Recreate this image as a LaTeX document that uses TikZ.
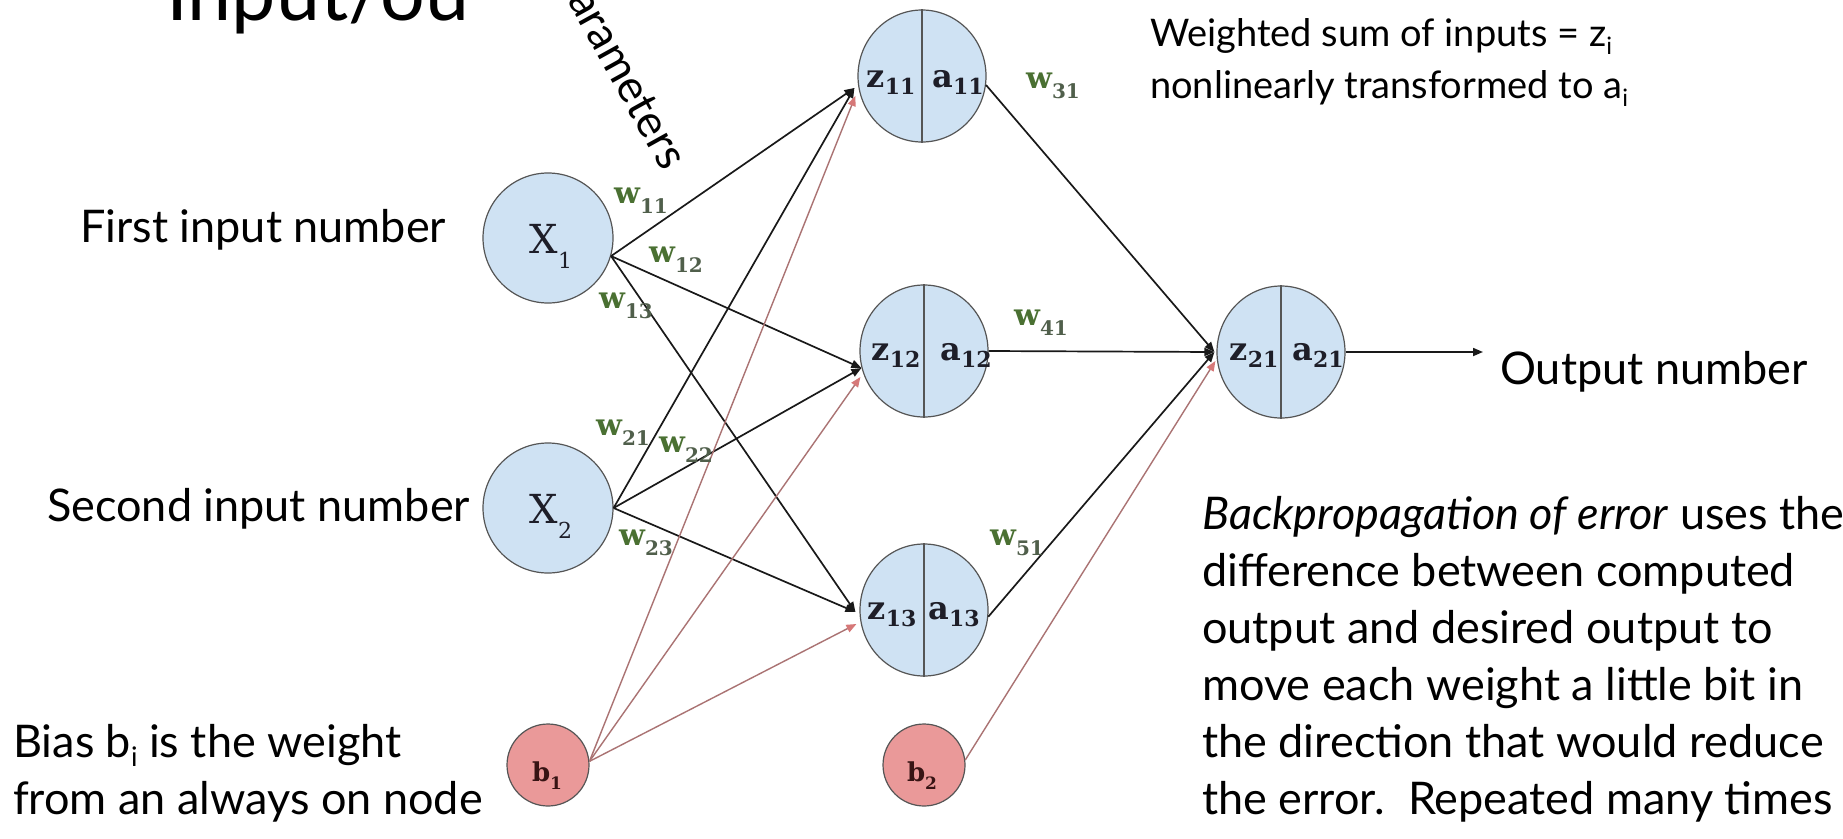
\documentclass[tikz,border=0pt]{standalone}
\usepackage{fontspec}
\setmainfont{Lato}
\newfontfamily\slabfont{DejaVu Serif}
\usetikzlibrary{arrows.meta,calc,shapes.geometric}
\definecolor{nodeblue}{RGB}{207,226,243}
\definecolor{nodered}{RGB}{234,153,153}
\definecolor{rimgray}{RGB}{85,85,85}
\definecolor{wgreen}{RGB}{74,112,50}
\definecolor{wdigit}{RGB}{80,95,75}
\definecolor{biasline}{RGB}{170,115,115}
\definecolor{biastip}{RGB}{214,120,120}
\definecolor{lineblack}{RGB}{25,25,25}
\definecolor{labdark}{RGB}{30,30,40}
\definecolor{bdark}{RGB}{55,20,20}
\newcommand{\tsub}[1]{\raisebox{-9pt}{\fontsize{27}{27}\selectfont #1}}
\newcommand{\ssub}[1]{\raisebox{-8pt}{\fontsize{24}{24}\selectfont #1}}
\newcommand{\lowsub}[3]{\raisebox{-#1pt}{\fontsize{#2}{#2}\selectfont #3}}
\newcommand{\wlab}[1]{{\color{wgreen}w}\raisebox{-10pt}{\fontsize{20}{20}\selectfont\color{wdigit}#1}}
\tikzset{
  txt/.style={font=\fontsize{45}{54}\selectfont, inner sep=0pt, anchor=base west, text=black},
  smalltxt/.style={font=\fontsize{38}{46}\selectfont, inner sep=0pt, anchor=base west, text=black},
  hid/.style={ellipse, draw=rimgray, fill=nodeblue, line width=1.2pt, minimum width=128pt, minimum height=132pt, inner sep=0pt},
  inp/.style={circle, draw=rimgray, fill=nodeblue, line width=1.2pt, minimum size=130pt, inner sep=0pt},
  bias/.style={circle, draw=rimgray, fill=nodered, line width=1.2pt, minimum size=82pt, inner sep=0pt},
  wl/.style={font=\slabfont\bfseries\fontsize{30}{30}\selectfont, inner sep=0pt, anchor=base west},
  hl/.style={font=\slabfont\bfseries\fontsize{32}{32}\selectfont, text=labdark, inner sep=0pt, anchor=base},
  xl/.style={font=\slabfont\fontsize{40}{40}\selectfont, text=labdark, inner sep=0pt, anchor=base},
  bl/.style={font=\slabfont\bfseries\fontsize{26}{26}\selectfont, text=bdark, inner sep=0pt, anchor=base},
  divider/.style={draw=rimgray, line width=1.2pt},
  wline/.style={draw=lineblack, line width=1.7pt, -{Triangle[length=10pt,width=8pt]}},
  bline/.style={draw=biasline, line width=1.4pt, -{Triangle[length=10pt,width=8pt,color=biastip]}}
}
\begin{document}
\begin{tikzpicture}[x=1pt,y=-1pt]
\useasboundingbox (0,0) rectangle (1843,838);
\fill[white] (0,0) rectangle (1843,838);
% title, partly hidden
\begin{scope}
\clip (0,0) rectangle (468,60);
\node[txt, font=\fontsize{79}{79}\selectfont] (title) at (166,20) {Input/out};
\end{scope}
\node[txt, rotate=-61] (param) at (567,0) {arameters};

% nodes
\node[inp] (X1) at (548,238) {};
\node[inp] (X2) at (548,508) {};
\node[bias] (b1) at (548,765) {};
\node[hid] (z11) at (922,76) {};
\node[hid] (z12) at (924,351) {};
\node[hid] (z13) at (924,610) {};
\node[bias] (b2) at (924,765) {};
\node[hid] (z21) at (1281,352) {};
\foreach \n in {z11,z12,z13,z21} \draw[divider] (\n.north) -- (\n.south);

% node labels
\node[xl] (X1t) at (551,253) {X\lowsub{15}{22}{1}};
\node[xl] (X2t) at (551,523) {X\lowsub{15}{22}{2}};
\node[hl] (z11z) at (891,87) {z\lowsub{7}{22}{11}};
\node[hl] (z11a) at (958,87) {a\lowsub{7}{22}{11}};
\node[hl] (z12z) at (896,360) {z\lowsub{7}{22}{12}};
\node[hl] (z12a) at (966,360) {a\lowsub{7}{22}{12}};
\node[hl] (z13z) at (892,619) {z\lowsub{7}{22}{13}};
\node[hl] (z13a) at (954,619) {a\lowsub{7}{22}{13}};
\node[hl] (z21z) at (1254,360) {z\lowsub{7}{22}{21}};
\node[hl] (z21a) at (1318,360) {a\lowsub{7}{22}{21}};
\node[bl] (b1t) at (547,781) {b\lowsub{8}{17}{1}};
\node[bl] (b2t) at (922,781) {b\lowsub{8}{17}{2}};

% input points
\coordinate (z11in) at ($(z11.west)+(-3,12)$);
\coordinate (z11inb) at ($(z11.west)+(-2,20)$);
\coordinate (z12in) at ($(z12.west)+(2,17)$);
\coordinate (z12inb) at ($(z12.west)+(1,26)$);
\coordinate (z13in) at ($(z13.west)+(-4,2)$);
\coordinate (z13inb) at ($(z13.west)+(-3,14)$);
\coordinate (z21in) at ($(z21.west)+(-2,0)$);
\coordinate (z21inb) at ($(z21.west)+(-1,9)$);
\coordinate (outend) at (1483,352);

% connectors
\foreach \t in {z11in,z12in,z13in} {
  \draw[wline] (X1.-16) -- (\t);
  \draw[wline] (X2.east) -- (\t);
}
\foreach \t in {z11inb,z12inb,z13inb} \draw[bline] (b1.5) -- (\t);
\draw[wline] (z11.-8) -- (z21in);
\draw[wline] (z12.east) -- (z21in);
\draw[wline] (z13.-6) -- (z21in);
\draw[bline] (b2.7) -- (z21inb);
\draw[wline] (z21.east) -- (outend);

% weight labels
\node[wl] (w11) at (614,203) {\wlab{11}};
\node[wl] (w12) at (649,262) {\wlab{12}};
\node[wl] (w13) at (599,308) {\wlab{13}};
\node[wl] (w21) at (596,435) {\wlab{21}};
\node[wl] (w22) at (659,452) {\wlab{22}};
\node[wl] (w23) at (619,545) {\wlab{23}};
\node[wl] (w31) at (1026,88) {\wlab{31}};
\node[wl] (w41) at (1014,325) {\wlab{41}};
\node[wl] (w51) at (990,545) {\wlab{51}};

% texts
\node[txt] (first) at (80,242) {First input number};
\node[txt] (second) at (47,521) {Second input number};
\node[txt] (outtxt) at (1500,384) {Output number};
\node[smalltxt] (wsum1) at (1150,46) {Weighted sum of inputs = z\ssub{i}};
\node[smalltxt] (wsum2) at (1150,98) {nonlinearly transformed to a\ssub{i}};
\node[txt] (bp1) at (1202,529) {\textit{Backpropagation of error} uses the};
\node[txt] (bp2) at (1202,586) {difference between computed};
\node[txt] (bp3) at (1202,643) {output and desired output to};
\node[txt] (bp4) at (1202,700) {move each weight a little bit in};
\node[txt] (bp5) at (1202,757) {the direction that would reduce};
\node[txt] (bp6) at (1202,814) {the error.\ \ Repeated many times};
\node[txt] (bias1) at (13,757) {Bias b\tsub{i} is the weight};
\node[txt] (bias2) at (13,814) {from an always on node};
\end{tikzpicture}
\end{document}
